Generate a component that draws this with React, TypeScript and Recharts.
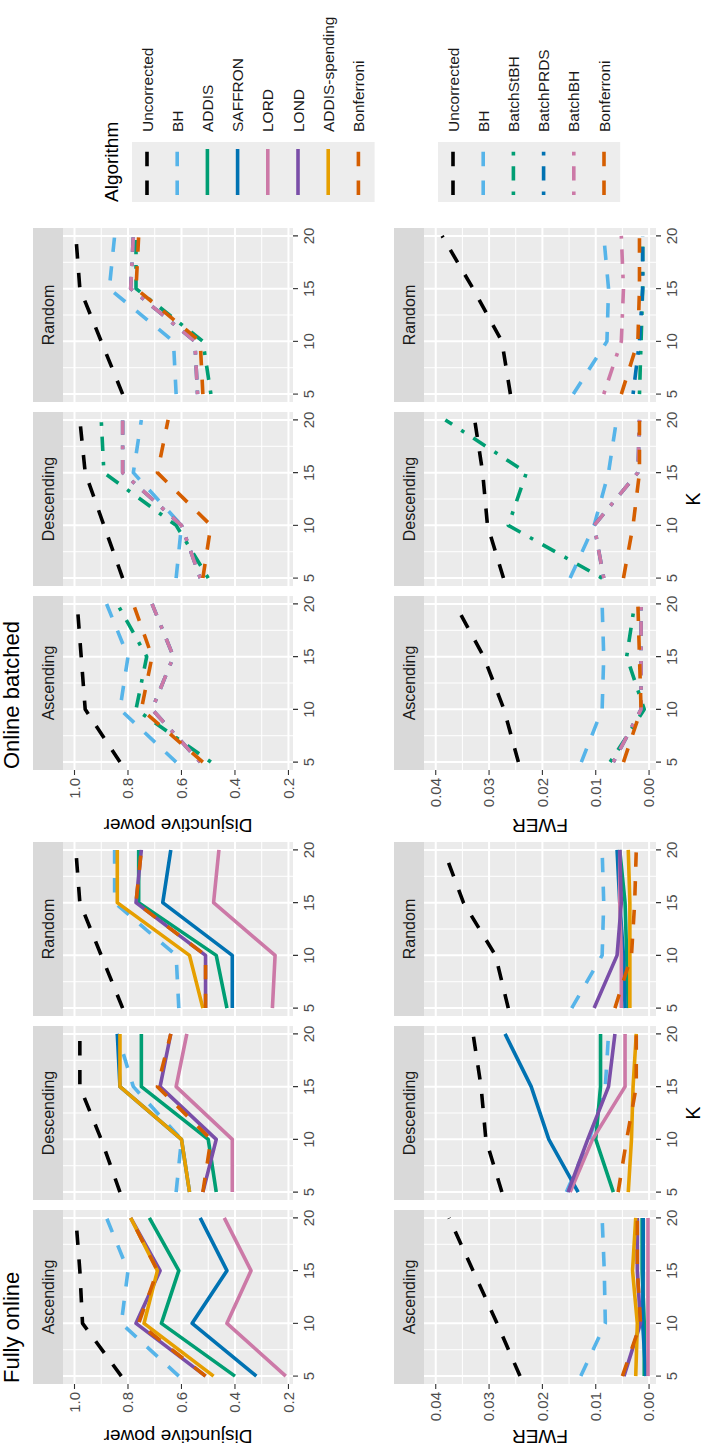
import { LineChart, Line, XAxis, YAxis, CartesianGrid } from "recharts";

// ---- data ----
const K = [5, 10, 15, 20];
const K_MINOR = [7.5, 12.5, 17.5];
const ORDERS = ["Ascending", "Descending", "Random"];

const POWER_TICKS = [0.2, 0.4, 0.6, 0.8, 1.0];
const POWER_MINOR = [0.3, 0.5, 0.7, 0.9];
const FWER_TICKS = [0, 0.01, 0.02, 0.03, 0.04];
const FWER_MINOR = [0.005, 0.015, 0.025, 0.035];

const ONLINE_ALGOS = ["Uncorrected", "BH", "ADDIS", "SAFFRON", "LORD", "LOND", "ADDIS-spending", "Bonferroni"];
const BATCH_ALGOS = ["Uncorrected", "BH", "BatchStBH", "BatchPRDS", "BatchBH", "Bonferroni"];

// fully online, disjunctive power (values at K = 5, 10, 15, 20)
const onlinePowerAscending: Record<string, number[]> = {
  Uncorrected: [0.825, 0.97, 0.98, 0.995],
  BH: [0.61, 0.825, 0.8, 0.88],
  ADDIS: [0.4, 0.675, 0.61, 0.72],
  SAFFRON: [0.32, 0.56, 0.43, 0.53],
  LORD: [0.21, 0.43, 0.34, 0.44],
  LOND: [0.51, 0.77, 0.68, 0.79],
  "ADDIS-spending": [0.48, 0.74, 0.69, 0.79],
  Bonferroni: [0.51, 0.76, 0.69, 0.79],
};
const onlinePowerDescending: Record<string, number[]> = {
  Uncorrected: [0.83, 0.9, 0.98, 0.98],
  BH: [0.62, 0.6, 0.78, 0.84],
  ADDIS: [0.47, 0.5, 0.75, 0.75],
  SAFFRON: [0.57, 0.6, 0.83, 0.84],
  LORD: [0.41, 0.41, 0.62, 0.58],
  LOND: [0.52, 0.47, 0.68, 0.64],
  "ADDIS-spending": [0.57, 0.6, 0.83, 0.83],
  Bonferroni: [0.52, 0.49, 0.69, 0.64],
};
const onlinePowerRandom: Record<string, number[]> = {
  Uncorrected: [0.82, 0.9, 0.98, 0.995],
  BH: [0.61, 0.62, 0.85, 0.85],
  ADDIS: [0.43, 0.47, 0.76, 0.76],
  SAFFRON: [0.41, 0.41, 0.67, 0.64],
  LORD: [0.26, 0.25, 0.48, 0.46],
  LOND: [0.51, 0.51, 0.77, 0.75],
  "ADDIS-spending": [0.52, 0.57, 0.84, 0.84],
  Bonferroni: [0.51, 0.51, 0.77, 0.75],
};

// fully online, FWER
const onlineFwerAscending: Record<string, number[]> = {
  Uncorrected: [0.0242, 0.0285, 0.033, 0.0375],
  BH: [0.0128, 0.0082, 0.0084, 0.0088],
  ADDIS: [0.0009, 0.0009, 0.0013, 0.0013],
  SAFFRON: [0.0006, 0.0012, 0.0011, 0.0011],
  LORD: [0.0002, 0.0002, 0.0002, 0.0002],
  LOND: [0.0047, 0.0016, 0.0022, 0.0022],
  "ADDIS-spending": [0.0025, 0.0022, 0.0031, 0.0025],
  Bonferroni: [0.005, 0.0016, 0.0022, 0.0022],
};
const onlineFwerDescending: Record<string, number[]> = {
  Uncorrected: [0.0276, 0.0306, 0.0315, 0.033],
  BH: [0.0155, 0.0112, 0.0082, 0.0076],
  ADDIS: [0.0067, 0.01, 0.0091, 0.0091],
  SAFFRON: [0.0133, 0.0188, 0.0221, 0.027],
  LORD: [0.0148, 0.0106, 0.0045, 0.0045],
  LOND: [0.0152, 0.0115, 0.0076, 0.0064],
  "ADDIS-spending": [0.0039, 0.0033, 0.003, 0.0024],
  Bonferroni: [0.0058, 0.0042, 0.0024, 0.0024],
};
const onlineFwerRandom: Record<string, number[]> = {
  Uncorrected: [0.0264, 0.0288, 0.0348, 0.0385],
  BH: [0.0145, 0.0088, 0.0085, 0.0088],
  ADDIS: [0.0039, 0.0042, 0.0045, 0.0055],
  SAFFRON: [0.0045, 0.0048, 0.0055, 0.006],
  LORD: [0.0052, 0.0052, 0.0055, 0.0055],
  LOND: [0.0103, 0.006, 0.0052, 0.0055],
  "ADDIS-spending": [0.0036, 0.0036, 0.0036, 0.0039],
  Bonferroni: [0.0064, 0.0033, 0.0027, 0.0024],
};

// online batched, disjunctive power
const batchPowerAscending: Record<string, number[]> = {
  Uncorrected: [0.83, 0.96, 0.975, 0.99],
  BH: [0.62, 0.83, 0.8, 0.88],
  BatchStBH: [0.49, 0.77, 0.73, 0.84],
  BatchPRDS: [0.53, 0.71, 0.63, 0.71],
  BatchBH: [0.53, 0.71, 0.63, 0.71],
  Bonferroni: [0.52, 0.75, 0.71, 0.78],
};
const batchPowerDescending: Record<string, number[]> = {
  Uncorrected: [0.82, 0.89, 0.96, 0.98],
  BH: [0.62, 0.6, 0.78, 0.75],
  BatchStBH: [0.5, 0.62, 0.89, 0.9],
  BatchPRDS: [0.53, 0.6, 0.82, 0.82],
  BatchBH: [0.53, 0.6, 0.82, 0.82],
  Bonferroni: [0.52, 0.49, 0.69, 0.65],
};
const batchPowerRandom: Record<string, number[]> = {
  Uncorrected: [0.82, 0.9, 0.98, 0.995],
  BH: [0.62, 0.63, 0.87, 0.85],
  BatchStBH: [0.49, 0.52, 0.77, 0.77],
  BatchPRDS: [0.54, 0.55, 0.79, 0.78],
  BatchBH: [0.54, 0.55, 0.79, 0.78],
  Bonferroni: [0.52, 0.53, 0.77, 0.76],
};

// online batched, FWER
const batchFwerAscending: Record<string, number[]> = {
  Uncorrected: [0.0245, 0.0272, 0.031, 0.0364],
  BH: [0.0127, 0.0088, 0.0085, 0.0088],
  BatchStBH: [0.0073, 0.0009, 0.0042, 0.0027],
  BatchPRDS: [0.0067, 0.0015, 0.0015, 0.0015],
  BatchBH: [0.0067, 0.0015, 0.0015, 0.0015],
  Bonferroni: [0.0048, 0.0015, 0.0018, 0.0021],
};
const batchFwerDescending: Record<string, number[]> = {
  Uncorrected: [0.0273, 0.0303, 0.0312, 0.0327],
  BH: [0.0148, 0.0103, 0.0076, 0.0061],
  BatchStBH: [0.0088, 0.0264, 0.023, 0.0382],
  BatchPRDS: [0.0085, 0.0103, 0.0021, 0.0018],
  BatchBH: [0.0085, 0.0103, 0.0021, 0.0018],
  Bonferroni: [0.0048, 0.003, 0.0018, 0.0018],
};
const batchFwerRandom: Record<string, number[]> = {
  Uncorrected: [0.026, 0.0276, 0.033, 0.0388],
  BH: [0.0142, 0.0079, 0.0076, 0.0085],
  BatchStBH: [0.0018, 0.0015, 0.0012, 0.0012],
  BatchPRDS: [0.003, 0.0018, 0.0012, 0.0012],
  BatchBH: [0.0085, 0.0052, 0.0048, 0.0052],
  Bonferroni: [0.0052, 0.0021, 0.0018, 0.0018],
};

// ---- styles ----
const COLORS: Record<string, string> = {
  Uncorrected: "#000000",
  BH: "#56B4E9",
  ADDIS: "#009E73",
  SAFFRON: "#0072B2",
  LORD: "#CC79A7",
  LOND: "#7A4EA8",
  "ADDIS-spending": "#E69F00",
  Bonferroni: "#D55E00",
  BatchStBH: "#009E73",
  BatchPRDS: "#0072B2",
  BatchBH: "#CC79A7",
};
const LINETYPE: Record<string, string> = {
  Uncorrected: "dashed",
  BH: "dashed",
  Bonferroni: "dashed",
  BatchStBH: "dotdash",
  BatchPRDS: "dotdash",
  BatchBH: "dotdash",
};
const LW = 3.6;
const DASH: Record<string, string | undefined> = {
  solid: undefined,
  dashed: `${4 * LW} ${4 * LW}`,
  dotdash: `${LW} ${3 * LW} ${4 * LW} ${3 * LW}`,
};
const dashOf = (a: string) => DASH[LINETYPE[a] || "solid"];

const FONT = "'Liberation Sans', Arial, Helvetica, sans-serif";

// ---- layout (figure drawn landscape, then turned) ----
const FIG_W = 1449;
const FIG_H = 709;
const PW = 174;
const PGAP = 10;
const YW = 60;
const XH = 30;

type RowSpec = {
  stripTop: number;
  top: number;
  h: number;
  domain: [number, number];
  ticks: number[];
  minor: number[];
  fmt: (v: number) => string;
  label: string;
};

const POWER_ROW: RowSpec = {
  stripTop: 33,
  top: 63,
  h: 230,
  domain: [0.183, 1.043],
  ticks: POWER_TICKS,
  minor: POWER_MINOR,
  fmt: (v) => v.toFixed(1),
  label: "Disjunctive power",
};
const FWER_ROW: RowSpec = {
  stripTop: 394,
  top: 424,
  h: 232,
  domain: [-0.0013, 0.0422],
  ticks: FWER_TICKS,
  minor: FWER_MINOR,
  fmt: (v) => v.toFixed(2),
  label: "FWER",
};

const SECTIONS = [
  {
    title: "Fully online",
    x0: 65,
    axisTitleX: 19,
    algos: ONLINE_ALGOS,
    power: [onlinePowerAscending, onlinePowerDescending, onlinePowerRandom],
    fwer: [onlineFwerAscending, onlineFwerDescending, onlineFwerRandom],
  },
  {
    title: "Online batched",
    x0: 679,
    axisTitleX: 630,
    algos: BATCH_ALGOS,
    power: [batchPowerAscending, batchPowerDescending, batchPowerRandom],
    fwer: [batchFwerAscending, batchFwerDescending, batchFwerRandom],
  },
];

function toRows(panel: Record<string, number[]>, algos: string[]) {
  return K.map((k, i) => {
    const row: Record<string, number> = { k };
    algos.forEach((a) => {
      row[a] = panel[a][i];
    });
    return row;
  });
}

function Panel({
  x,
  row,
  data,
  algos,
  showY,
}: {
  x: number;
  row: RowSpec;
  data: Record<string, number[]>;
  algos: string[];
  showY: boolean;
}) {
  const left = showY ? x - YW : x;
  const width = showY ? PW + YW : PW;
  const tickStyle = { fontSize: 15, fill: "#4D4D4D", fontFamily: FONT };
  return (
    <div style={{ position: "absolute", left, top: row.top }}>
      <LineChart
        width={width}
        height={row.h + XH}
        data={toRows(data, algos)}
        margin={{ top: 0, right: 0, bottom: 0, left: 0 }}
      >
        <CartesianGrid
          fill="#EBEBEB"
          fillOpacity={1}
          stroke="#FFFFFF"
          strokeWidth={1}
          horizontalValues={row.minor}
          verticalValues={K_MINOR}
        />
        <CartesianGrid
          stroke="#FFFFFF"
          strokeWidth={2}
          horizontalValues={row.ticks}
          verticalValues={K}
        />
        <XAxis
          type="number"
          dataKey="k"
          domain={[4.25, 20.75]}
          ticks={K}
          interval={0}
          allowDataOverflow
          axisLine={false}
          tickLine={{ stroke: "#333333", strokeWidth: 1.1 }}
          tickSize={5}
          tickMargin={5}
          height={XH}
          tick={tickStyle}
        />
        <YAxis
          type="number"
          domain={row.domain}
          ticks={row.ticks}
          interval={0}
          allowDataOverflow
          hide={!showY}
          width={YW}
          axisLine={false}
          tickLine={{ stroke: "#333333", strokeWidth: 1.1 }}
          tickSize={5}
          tickMargin={3}
          tick={tickStyle}
          tickFormatter={row.fmt}
        />
        {algos.map((a) => (
          <Line
            key={a}
            type="linear"
            dataKey={a}
            stroke={COLORS[a]}
            strokeWidth={LW}
            strokeDasharray={dashOf(a)}
            strokeLinejoin="round"
            dot={false}
            activeDot={false}
            isAnimationActive={false}
          />
        ))}
      </LineChart>
    </div>
  );
}

function LegendBlock({ algos, top, title }: { algos: string[]; top: number; title?: string }) {
  const step = 30.2;
  return (
    <g>
      {title && (
        <text x={1247} y={top - 14} fontSize={19} fill="#000">
          {title}
        </text>
      )}
      <rect x={1247} y={top} width={60} height={algos.length * step + 1} fill="#EDEDED" />
      {algos.map((a, i) => {
        const cy = top + 15 + i * step;
        return (
          <g key={a}>
            <line
              x1={1254}
              x2={1300}
              y1={cy}
              y2={cy}
              stroke={COLORS[a]}
              strokeWidth={LW}
              strokeDasharray={dashOf(a)}
            />
            <text x={1317} y={cy + 5.5} fontSize={15.5} fill="#1A1A1A">
              {a}
            </text>
          </g>
        );
      })}
    </g>
  );
}

function Figure() {
  return (
    <div style={{ position: "absolute", left: 0, top: 0, width: FIG_W, height: FIG_H, background: "#fff" }}>
      <svg
        width={FIG_W}
        height={FIG_H}
        style={{ position: "absolute", left: 0, top: 0 }}
        fontFamily={FONT}
      >
        {SECTIONS.map((sec) => {
          const panelsEnd = sec.x0 + 3 * PW + 2 * PGAP;
          return (
            <g key={sec.title}>
              <text x={sec.x0 + 1} y={18.5} fontSize={22} fill="#000">
                {sec.title}
              </text>
              {ORDERS.map((o, j) => {
                const px = sec.x0 + j * (PW + PGAP);
                return [POWER_ROW, FWER_ROW].map((r) => (
                  <g key={o + r.label}>
                    <rect x={px} y={r.stripTop} width={PW} height={r.top - r.stripTop} fill="#D9D9D9" />
                    <text
                      x={px + PW / 2}
                      y={(r.stripTop + r.top) / 2 + 5.5}
                      textAnchor="middle"
                      fontSize={16}
                      fill="#1A1A1A"
                    >
                      {o}
                    </text>
                  </g>
                ));
              })}
              {[POWER_ROW, FWER_ROW].map((r) => {
                const cy = r.top + r.h / 2;
                return (
                  <text
                    key={r.label}
                    x={sec.axisTitleX}
                    y={cy}
                    fontSize={19}
                    fill="#000"
                    textAnchor="middle"
                    transform={`rotate(-90, ${sec.axisTitleX}, ${cy})`}
                  >
                    {r.label}
                  </text>
                );
              })}
              <text x={(sec.x0 + panelsEnd) / 2} y={700} fontSize={20} textAnchor="middle" fill="#000">
                K
              </text>
            </g>
          );
        })}
        <LegendBlock algos={ONLINE_ALGOS} top={132} title="Algorithm" />
        <LegendBlock algos={BATCH_ALGOS} top={438} />
      </svg>
      {SECTIONS.map((sec) =>
        ORDERS.map((o, j) => {
          const px = sec.x0 + j * (PW + PGAP);
          return [
            <Panel key={sec.title + o + "p"} x={px} row={POWER_ROW} data={sec.power[j]} algos={sec.algos} showY={j === 0} />,
            <Panel key={sec.title + o + "f"} x={px} row={FWER_ROW} data={sec.fwer[j]} algos={sec.algos} showY={j === 0} />,
          ];
        })
      )}
    </div>
  );
}

export default function App() {
  return (
    <div
      style={{
        position: "absolute",
        left: 0,
        top: 0,
        width: FIG_H,
        height: FIG_W,
        overflow: "hidden",
        background: "#fff",
      }}
    >
      <div
        style={{
          position: "absolute",
          left: 0,
          top: 0,
          width: FIG_W,
          height: FIG_H,
          transformOrigin: "0 0",
          transform: `translate(0px, ${FIG_W}px) rotate(-90deg)`,
        }}
      >
        <Figure />
      </div>
    </div>
  );
}
